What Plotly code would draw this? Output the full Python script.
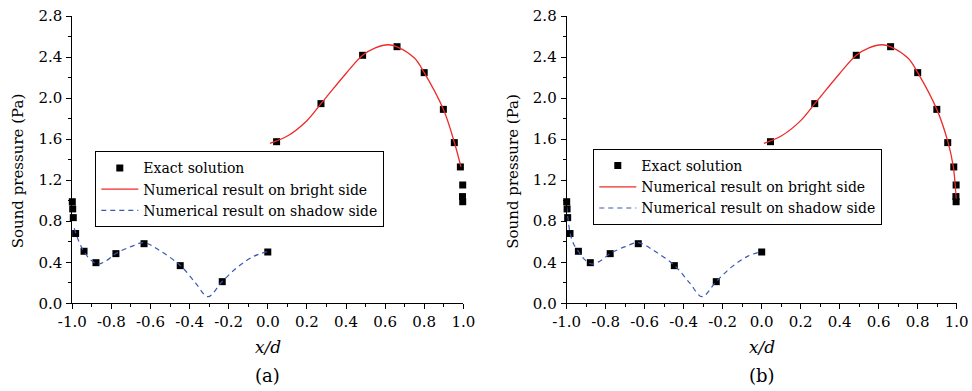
import plotly.graph_objects as go

# ---- data ----
exact_x = [-1.0, -0.998, -0.995, -0.983, -0.94, -0.879, -0.777, -0.633, -0.448, -0.233, 0.0,
           0.045, 0.272, 0.485, 0.661, 0.80, 0.898, 0.954, 0.985, 0.997, 0.996, 0.997]
exact_y = [0.99, 0.92, 0.835, 0.68, 0.507, 0.396, 0.484, 0.581, 0.367, 0.211, 0.50,
           1.575, 1.946, 2.417, 2.501, 2.248, 1.89, 1.566, 1.329, 1.153, 1.04, 0.99]

shadow_a_x = [-0.990, -0.970, -0.945, -0.91, -0.872, -0.83, -0.775, -0.70, -0.633, -0.55,
              -0.446, -0.37, -0.306, -0.234, -0.15, -0.07, -0.003]
shadow_a_y = [0.731, 0.62, 0.52, 0.43, 0.383, 0.41, 0.487, 0.552, 0.591, 0.51,
              0.366, 0.20, 0.065, 0.211, 0.36, 0.46, 0.503]

shadow_b_x = [-1.0, -0.993, -0.982, -0.965, -0.945, -0.91, -0.872, -0.83, -0.775, -0.70, -0.633,
              -0.55, -0.446, -0.37, -0.306, -0.234, -0.15, -0.07, -0.003]
shadow_b_y = [0.94, 0.82, 0.68, 0.58, 0.52, 0.43, 0.383, 0.41, 0.487, 0.552, 0.591,
              0.51, 0.366, 0.20, 0.065, 0.211, 0.36, 0.46, 0.503]

bright_a_x = [0.011, 0.1, 0.2, 0.272, 0.3, 0.4, 0.485, 0.55, 0.617, 0.661, 0.75, 0.8, 0.898, 0.954, 0.988]
bright_a_y = [1.559, 1.63, 1.78, 1.946, 2.01, 2.24, 2.417, 2.49, 2.52, 2.50, 2.39, 2.248, 1.89, 1.57, 1.33]

bright_b_x = [0.011, 0.1, 0.2, 0.272, 0.3, 0.4, 0.485, 0.55, 0.617, 0.661, 0.75, 0.8, 0.898, 0.954,
              0.982, 0.992, 0.998]
bright_b_y = [1.559, 1.63, 1.78, 1.946, 2.01, 2.24, 2.417, 2.49, 2.52, 2.50, 2.39, 2.248, 1.89, 1.58,
              1.34, 1.16, 1.02]

x_tick_vals = [-1.0, -0.8, -0.6, -0.4, -0.2, 0.0, 0.2, 0.4, 0.6, 0.8, 1.0]
x_tick_text = ["-1.0", "-0.8", "-0.6", "-0.4", "-0.2", "0.0", "0.2", "0.4", "0.6", "0.8", "1.0"]
y_tick_vals = [0.0, 0.4, 0.8, 1.2, 1.6, 2.0, 2.4, 2.8]
y_tick_text = ["0.0", "0.4", "0.8", "1.2", "1.6", "2.0", "2.4", "2.8"]

names = ["Exact solution", "Numerical result on bright side", "Numerical result on shadow side"]
panel_labels = ["(a)", "(b)"]

RED = "#ee2a2a"
BLUE = "#3a58b4"
FONT = "DejaVu Serif"
W, H = 972, 391

fig = go.Figure()

panels = [
    dict(xa="x", ya="y", leg="legend", sx=shadow_a_x, sy=shadow_a_y, bx=bright_a_x, by=bright_a_y),
    dict(xa="x2", ya="y2", leg="legend2", sx=shadow_b_x, sy=shadow_b_y, bx=bright_b_x, by=bright_b_y),
]
for p in panels:
    fig.add_trace(go.Scatter(x=exact_x, y=exact_y, mode="markers", name=names[0],
                             marker=dict(symbol="square", size=7, color="black"),
                             xaxis=p["xa"], yaxis=p["ya"], legend=p["leg"], cliponaxis=False))
    fig.add_trace(go.Scatter(x=p["bx"], y=p["by"], mode="lines", name=names[1],
                             line=dict(color=RED, width=1.3, shape="spline", smoothing=1.0),
                             xaxis=p["xa"], yaxis=p["ya"], legend=p["leg"]))
    fig.add_trace(go.Scatter(x=p["sx"], y=p["sy"], mode="lines", name=names[2],
                             line=dict(color=BLUE, width=1.2, shape="spline", smoothing=1.0, dash="5px,4px"),
                             xaxis=p["xa"], yaxis=p["ya"], legend=p["leg"]))

left_px = [72.3, 566.7]
right_px = [463.3, 956.7]
top_px, bot_px = 16, 303.3

axis_common = dict(showline=True, linecolor="black", linewidth=1, ticks="outside", ticklen=5,
                   tickwidth=1, tickcolor="black", showgrid=False, zeroline=False, automargin=False,
                   tickfont=dict(family=FONT, size=15, color="black"))

layout = dict(width=W, height=H, margin=dict(l=0, r=0, t=0, b=0, pad=0, autoexpand=False),
              paper_bgcolor="white", plot_bgcolor="white", showlegend=True,
              font=dict(family=FONT, size=14, color="black"))

for i in range(2):
    sfx = "" if i == 0 else str(i + 1)
    layout["xaxis" + sfx] = dict(axis_common, domain=[left_px[i] / W, right_px[i] / W],
                                 range=[-1, 1], tickvals=x_tick_vals, ticktext=x_tick_text,
                                 anchor="y" + sfx,
                                 minor=dict(ticks="outside", ticklen=3, dtick=0.1, tick0=0,
                                            tickcolor="black", showgrid=False))
    layout["yaxis" + sfx] = dict(axis_common, domain=[1 - bot_px / H, 1 - top_px / H],
                                 range=[0, 2.8], tickvals=y_tick_vals, ticktext=y_tick_text,
                                 anchor="x" + sfx, ticklabelstandoff=1,
                                 minor=dict(ticks="outside", ticklen=3, dtick=0.2, tick0=0,
                                            tickcolor="black", showgrid=False))

leg_common = dict(bordercolor="black", borderwidth=1, bgcolor="white",
                  font=dict(family=FONT, size=14, color="black"),
                  xanchor="left", yanchor="top", tracegroupgap=0, itemwidth=37)
layout["legend"] = dict(leg_common, x=95.3 / W, y=1 - 151.3 / H)
layout["legend2"] = dict(leg_common, x=593.3 / W, y=1 - 149 / H)

annotations = []
for i in range(2):
    cx = (left_px[i] + right_px[i]) / 2
    annotations.append(dict(text="<i>x/d</i>", x=cx / W, y=1 - 347 / H, xref="paper", yref="paper",
                            showarrow=False, xanchor="center", yanchor="middle",
                            font=dict(family=FONT, size=17, color="black")))
    annotations.append(dict(text=panel_labels[i], x=cx / W, y=1 - 375 / H, xref="paper", yref="paper",
                            showarrow=False, xanchor="center", yanchor="middle",
                            font=dict(family=FONT, size=18, color="black")))
    annotations.append(dict(text="Sound pressure (Pa)", x=(18.3 + i * 494.4) / W, y=1 - 171 / H,
                            xref="paper", yref="paper", showarrow=False, textangle=-90,
                            xanchor="center", yanchor="middle",
                            font=dict(family=FONT, size=15, color="black")))
layout["annotations"] = annotations

fig.update_layout(**layout)
fig.write_html("out.html", config={"displayModeBar": False},
               post_script="document.body.style.margin='0';")
